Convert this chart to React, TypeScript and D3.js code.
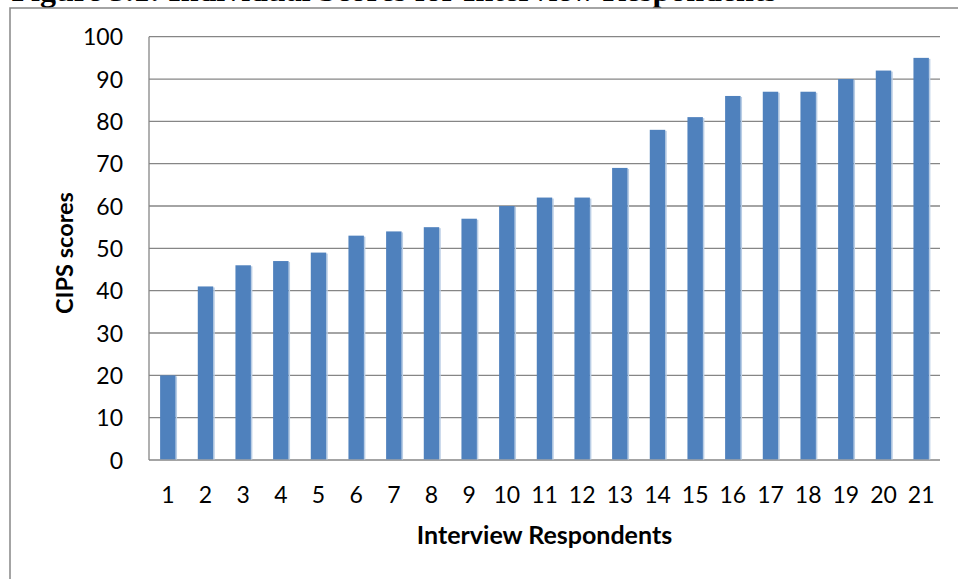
import React from "react";
import * as d3 from "d3";

// Respondent numbers and their CIPS scores
const respondents: string[] = [
  "1", "2", "3", "4", "5", "6", "7", "8", "9", "10", "11",
  "12", "13", "14", "15", "16", "17", "18", "19", "20", "21",
];
const scores: number[] = [
  20, 41, 46, 47, 49, 53, 54, 55, 57, 60, 62,
  62, 69, 78, 81, 86, 87, 87, 90, 92, 95,
];
const yTicks: number[] = [0, 10, 20, 30, 40, 50, 60, 70, 80, 90, 100];

const title = "Figure 5.1: Individual Scores for Interview Respondents";
const xTitle = "Interview Respondents";
const yTitle = "CIPS scores";

const W = 958;
const H = 579;
const plot = { left: 149, right: 940, top: 36.7, bottom: 460 };
const font = "Lato, 'Open Sans', sans-serif";
const gridColor = "#868686";
const barColor = "#4F81BD";

export default function App() {
  const x = d3
    .scaleBand<string>()
    .domain(respondents)
    .range([plot.left, plot.right])
    .paddingInner(0.59)
    .paddingOuter(0.295);
  const y = d3.scaleLinear().domain([0, 100]).range([plot.bottom, plot.top]);

  return (
    <svg
      width={W}
      height={H}
      viewBox={`0 0 ${W} ${H}`}
      style={{ position: "absolute", left: 0, top: 0, background: "#fff" }}
    >
      <rect x={0} y={0} width={W} height={H} fill="#fff" />
      {/* caption above the chart, running off the top edge */}
      <text
        x={11.5}
        y={1}
        fontFamily="'Liberation Serif', 'Times New Roman', serif"
        fontWeight="bold"
        fontSize={32}
        fill="#000"
      >
        {title}
      </text>
      {/* chart frame */}
      <rect
        x={10}
        y={8}
        width={1200}
        height={1200}
        fill="none"
        stroke={gridColor}
        strokeWidth={1.5}
      />
      {/* horizontal gridlines */}
      {yTicks.map((t) => (
        <line
          key={`g${t}`}
          x1={plot.left}
          x2={plot.right}
          y1={y(t)}
          y2={y(t)}
          stroke={gridColor}
          strokeWidth={1.3}
        />
      ))}
      {/* vertical axis line */}
      <line
        x1={plot.left}
        x2={plot.left}
        y1={plot.top}
        y2={plot.bottom}
        stroke={gridColor}
        strokeWidth={1.3}
      />
      {/* bars */}
      {respondents.map((r, i) => {
        const bx = x(r)!;
        const bw = x.bandwidth();
        const by = y(scores[i]);
        const bh = plot.bottom - by;
        return (
          <g key={`b${r}`}>
            <rect x={bx + bw} y={by + 1} width={1.5} height={bh - 1.5} fill="#B9CDE5" />
            <rect x={bx} y={by} width={bw} height={bh - 0.7} fill={barColor} />
          </g>
        );
      })}
      {/* y tick labels */}
      {yTicks.map((t) => (
        <text
          key={`yl${t}`}
          x={123}
          y={y(t) + 8.5}
          textAnchor="end"
          fontFamily={font}
          fontSize={23}
          fill="#000"
        >
          {t}
        </text>
      ))}
      {/* x tick labels */}
      {respondents.map((r) => (
        <text
          key={`xl${r}`}
          x={x(r)! + x.bandwidth() / 2}
          y={503}
          textAnchor="middle"
          fontFamily={font}
          fontSize={23}
          fill="#000"
        >
          {r}
        </text>
      ))}
      {/* axis titles */}
      <text
        x={(plot.left + plot.right) / 2}
        y={543.5}
        textAnchor="middle"
        fontFamily={font}
        fontWeight="bold"
        fontSize={25}
        fill="#000"
      >
        {xTitle}
      </text>
      <text
        transform={`translate(72.5, 253) rotate(-90)`}
        textAnchor="middle"
        fontFamily={font}
        fontWeight="bold"
        fontSize={23.5}
        fill="#000"
      >
        {yTitle}
      </text>
    </svg>
  );
}
